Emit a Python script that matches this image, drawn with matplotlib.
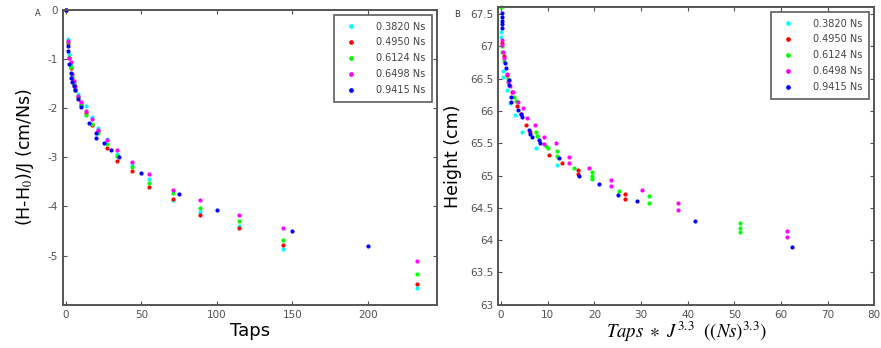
import matplotlib
matplotlib.use("Agg")
import matplotlib.pyplot as plt
from matplotlib.ticker import FuncFormatter

plt.rcParams["mathtext.fontset"] = "stix"
plt.rcParams["axes.unicode_minus"] = False

labels = ["0.3820 Ns", "0.4950 Ns", "0.6124 Ns", "0.6498 Ns", "0.9415 Ns"]
colors = ["#00ffff", "#ff0000", "#00ff00", "#ff00ff", "#0000ff"]

# panel A: taps vs (H-H0)/J
taps = [0, 1, 2, 3, 4, 5, 6, 8, 10, 13, 17, 21, 27, 34, 44, 55, 71, 89, 115, 144, 233]
a_cyan = [0, -0.60, -0.90, -1.12, -1.33, -1.48, -1.58, -1.72, -1.88, -1.95, -2.18,
          -2.40, -2.62, -2.93, -3.15, -3.45, -3.86, -4.12, -4.40, -4.86, -5.65]
a_red = [0, -0.68, -0.97, -1.18, -1.38, -1.52, -1.62, -1.78, -1.93, -2.10, -2.34,
         -2.47, -2.81, -3.07, -3.27, -3.60, -3.84, -4.17, -4.44, -4.79, -5.57]
a_green = [0, -0.66, -0.96, -1.17, -1.37, -1.50, -1.63, -1.77, -1.92, -2.13, -2.33,
           -2.50, -2.72, -2.97, -3.20, -3.52, -3.73, -4.04, -4.30, -4.68, -5.37]
a_magenta = [0, -0.64, -0.98, -1.05, -1.30, -1.45, -1.55, -1.75, -1.88, -2.05, -2.22,
             -2.45, -2.64, -2.86, -3.10, -3.33, -3.67, -3.87, -4.18, -4.43, -5.10]
taps_blue = [0, 1, 1, 2, 3, 3, 4, 5, 6, 8, 10, 15, 20, 20, 25, 30, 35, 50, 75, 100, 150, 200]
a_blue = [0, -0.73, -0.83, -1.10, -1.28, -1.38, -1.46, -1.55, -1.62, -1.82, -1.97,
          -2.30, -2.51, -2.60, -2.70, -2.85, -2.99, -3.32, -3.75, -4.08, -4.50, -4.81]

# panel B: Taps*J^3.3 vs height
b_cyan_x = [0, 0, 0.4, 0.5, 1.2, 1.9, 3.0, 4.5, 7.5, 11.9]
b_cyan_y = [67.22, 67.15, 66.62, 66.53, 66.32, 66.12, 65.94, 65.68, 65.43, 65.17]
b_red_x = [0.2, 0.6, 1.3, 2.3, 3.4, 4.2, 5.3, 6.2, 10.2, 13.1, 16.4, 16.4, 26.5, 26.5]
b_red_y = [67.05, 66.85, 66.55, 66.30, 66.08, 65.95, 65.79, 65.68, 65.32, 65.20,
           65.09, 65.02, 64.72, 64.63]
b_green_x = [0, 0.1, 0.2, 0.7, 1.5, 2.7, 3.3, 7.5, 7.7, 9.6, 10.0, 12.0, 12.0, 15.6,
             19.5, 19.5, 19.5, 25.2, 31.7, 31.7, 51.2, 51.2, 51.2]
b_green_y = [67.61, 67.00, 66.92, 66.78, 66.50, 66.22, 66.16, 65.68, 65.62, 65.45,
             65.42, 65.38, 65.30, 65.12, 65.06, 64.99, 64.94, 64.76, 64.69, 64.58,
             64.26, 64.19, 64.12]
b_magenta_x = [0.1, 0.15, 0.4, 0.6, 1.2, 1.4, 2.0, 2.6, 3.6, 4.6, 5.6, 7.3, 9.1, 9.1,
               11.7, 14.5, 14.5, 18.8, 23.5, 23.5, 30.3, 38.0, 38.0, 61.3, 61.3]
b_magenta_y = [67.10, 67.02, 66.92, 66.82, 66.58, 66.45, 66.38, 66.30, 66.14, 66.04,
               65.89, 65.79, 65.60, 65.49, 65.50, 65.29, 65.20, 65.11, 64.93, 64.84,
               64.78, 64.57, 64.47, 64.14, 64.05]
b_blue_x = [0.3, 0.3, 0.3, 0.3, 0.3, 0.9, 1.0, 1.6, 1.7, 2.1, 2.2, 3.7, 4.2, 4.4, 6.0,
            6.3, 6.7, 8.2, 8.4, 12.5, 16.8, 20.9, 25.0, 29.2, 41.5, 62.4]
b_blue_y = [67.52, 67.46, 67.40, 67.34, 67.28, 66.74, 66.66, 66.48, 66.40, 66.22,
            66.14, 66.02, 65.95, 65.90, 65.70, 65.65, 65.59, 65.55, 65.50, 65.27,
            65.00, 64.87, 64.70, 64.61, 64.30, 63.90]

a_sets = [(taps, a_cyan), (taps, a_red), (taps, a_green), (taps, a_magenta),
          (taps_blue, a_blue)]
b_sets = [(b_cyan_x, b_cyan_y), (b_red_x, b_red_y), (b_green_x, b_green_y),
          (b_magenta_x, b_magenta_y), (b_blue_x, b_blue_y)]

fig = plt.figure(figsize=(8.81, 3.48), dpi=100)
axA = fig.add_axes([0.0712, 0.1244, 0.4248, 0.8469])
axB = fig.add_axes([0.5656, 0.1244, 0.4268, 0.8555])

tick_col = "#505050"


def style(ax):
    for s in ax.spines.values():
        s.set_color("#555555")
        s.set_linewidth(1.4)
    ax.tick_params(direction="in", top=True, right=True, length=3,
                   labelsize=7.5, colors=tick_col, width=0.8)


for (x, y), c, lab in zip(a_sets, colors, labels):
    axA.plot(x, y, ".", color=c, markersize=4, label=lab, clip_on=False)
axA.set_xlim(-2.2, 246)
axA.set_ylim(-6, 0)
axA.set_xticks([0, 50, 100, 150, 200])
axA.set_yticks([0, -1, -2, -3, -4, -5])
style(axA)
axA.set_xlabel("Taps", fontsize=13, labelpad=2)
axA.set_ylabel("(H-H$_0$)/J (cm/Ns)", fontsize=12.5, labelpad=8)
fig.text(0.04, 0.955, "A", fontsize=6, color="#333333")

for (x, y), c, lab in zip(b_sets, colors, labels):
    axB.plot(x, y, ".", color=c, markersize=4, label=lab, clip_on=False)
axB.set_xlim(-0.6, 80)
axB.set_ylim(63, 67.61)
axB.set_xticks(range(0, 81, 10))
axB.set_yticks([63, 63.5, 64, 64.5, 65, 65.5, 66, 66.5, 67, 67.5])
axB.yaxis.set_major_formatter(FuncFormatter(lambda v, p: "%g" % v))
style(axB)
axB.set_xlabel(r"$Taps\ \ast\ J^{3.3}\ \ ((Ns)^{3.3})$", fontsize=13.5, labelpad=0)
axB.set_ylabel("Height (cm)", fontsize=12.5, labelpad=6)
fig.text(0.516, 0.95, "B", fontsize=6, color="#333333")

for ax in (axA, axB):
    leg = ax.legend(loc="upper right", fontsize=7, frameon=True, fancybox=False,
                    borderaxespad=0.5, handletextpad=1.6, labelspacing=0.6,
                    borderpad=0.7, markerscale=1.2)
    leg.get_frame().set_edgecolor("#333333")
    leg.get_frame().set_linewidth(1.2)
    for t in leg.get_texts():
        t.set_color("#444444")

fig.savefig("out.png", dpi=100)
